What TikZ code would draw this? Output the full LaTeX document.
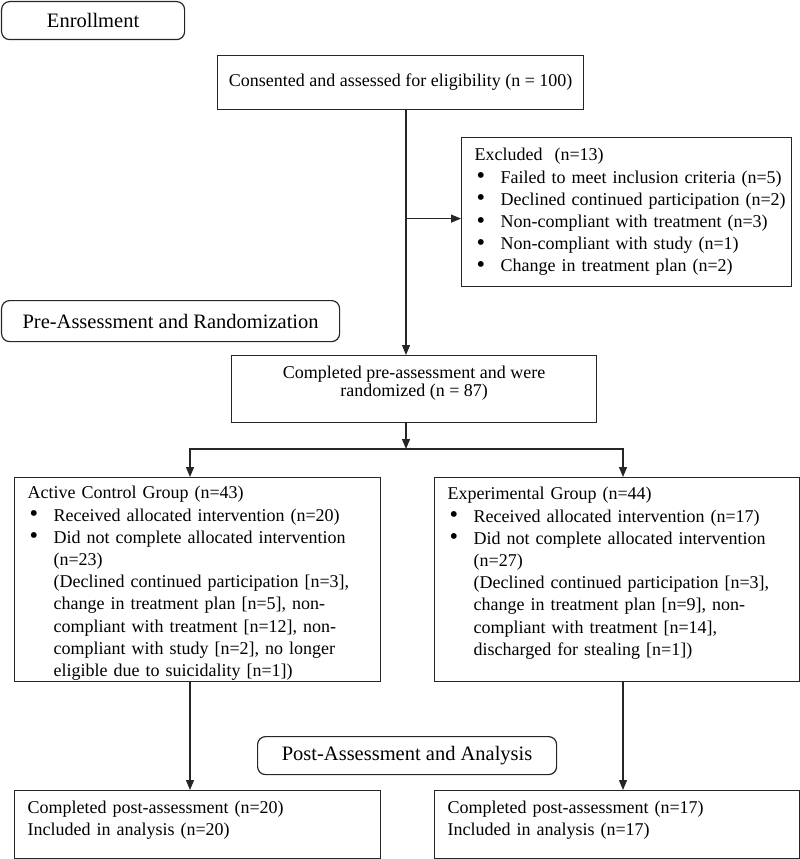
\documentclass[tikz,border=0pt]{standalone}
\usepackage{fontspec}
\setmainfont{Liberation Serif}
\usetikzlibrary{arrows.meta}

\tikzset{
  phase/.style={draw=black!85, line width=1.2pt, rounded corners=8pt,
    font=\fontsize{20.5}{24}\selectfont, inner sep=0pt},
  stage/.style={draw=black!85, line width=1.2pt,
    font=\fontsize{18}{22.2}\selectfont, inner sep=0pt},
  listbox/.style={stage, align=left, inner xsep=13pt},
  flow/.style={line width=1.2pt, draw=black!85, -{Triangle[length=10pt,width=8pt]}},
}
\newcommand{\bul}{\makebox[26pt][l]{\hspace{2pt}\raisebox{-0.5pt}{\scalebox{1.35}{\textbullet}}}}
\newcommand{\itm}[1]{\mbox{\bul #1}}
\newcommand{\cont}[1]{\mbox{\hspace*{26pt}#1}}

\begin{document}
\begin{tikzpicture}[x=1pt, y=-1pt]
  \useasboundingbox (0,0) rectangle (800,859);

  % phase labels
  \node[phase, anchor=north west, minimum width=183pt, minimum height=38pt] (enrol) at (1,1) {Enrollment};
  \node[phase, anchor=north west, minimum width=338pt, minimum height=41pt] (pre) at (1,300) {Pre-Assessment and Randomization};
  \node[phase, anchor=north west, minimum width=299pt, minimum height=38pt] (post) at (257,736) {Post-Assessment and Analysis};

  % stages
  \node[stage, anchor=north west, minimum width=366pt, minimum height=54pt] (consent) at (217,55)
    {Consented and assessed for eligibility (n = 100)};
  \node[listbox, anchor=north west, text width=304pt, minimum height=149pt] (excl) at (461,137)
    {Excluded\ \ (n=13)\\
     \itm{Failed to meet inclusion criteria (n=5)}\\
     \itm{Declined continued participation (n=2)}\\
     \itm{Non-compliant with treatment (n=3)}\\
     \itm{Non-compliant with study (n=1)}\\
     \itm{Change in treatment plan (n=2)}};
  \node[stage, align=center, anchor=north west, minimum width=365pt, minimum height=67pt, text depth=16pt] (rand) at (231,355)
    {Completed pre-assessment and were\\[-4pt] randomized (n = 87)};

  % groups
  \node[listbox, anchor=north west, text width=340pt, minimum height=204pt, text depth=174pt] (active) at (14,477)
    {Active Control Group (n=43)\\
     \itm{Received allocated intervention (n=20)}\\
     \itm{Did not complete allocated intervention}\\
     \cont{(n=23)}\\
     \cont{(Declined continued participation [n=3],}\\
     \cont{change in treatment plan [n=5], non-}\\
     \cont{compliant with treatment [n=12], non-}\\
     \cont{compliant with study [n=2], no longer}\\
     \cont{eligible due to suicidality [n=1])}};
  \node[listbox, anchor=north west, text width=339pt, minimum height=204pt, text depth=172pt] (exp) at (434,477)
    {Experimental Group (n=44)\\
     \itm{Received allocated intervention (n=17)}\\
     \itm{Did not complete allocated intervention}\\
     \cont{(n=27)}\\
     \cont{(Declined continued participation [n=3],}\\
     \cont{change in treatment plan [n=9], non-}\\
     \cont{compliant with treatment [n=14],}\\
     \cont{discharged for stealing [n=1])}};

  % analysis
  \node[listbox, anchor=north west, text width=340pt, minimum height=68pt, text depth=35pt] (postA) at (14,790)
    {Completed post-assessment (n=20)\\ Included in analysis (n=20)};
  \node[listbox, anchor=north west, text width=339pt, minimum height=68pt, text depth=35pt] (postB) at (434,790)
    {Completed post-assessment (n=17)\\ Included in analysis (n=17)};

  % connectors
  \coordinate (spine) at (406,0);
  \coordinate (colA) at (190,0);
  \coordinate (colB) at (623,0);
  \coordinate (split) at (406,449);
  \draw[flow] (consent.south -| spine) -- (rand.north -| spine);
  \draw[flow] (spine |- excl.west) ++(0,6.5) -- ([yshift=-6.5pt]excl.west);
  \draw[flow] (rand.south -| spine) -- (split);
  \draw[flow] (split) -| (colA |- active.north);
  \draw[flow] (split) -| (colB |- exp.north);
  \draw[flow] (colA |- active.south) -- (colA |- postA.north);
  \draw[flow] (colB |- exp.south) -- (colB |- postB.north);
\end{tikzpicture}
\end{document}
